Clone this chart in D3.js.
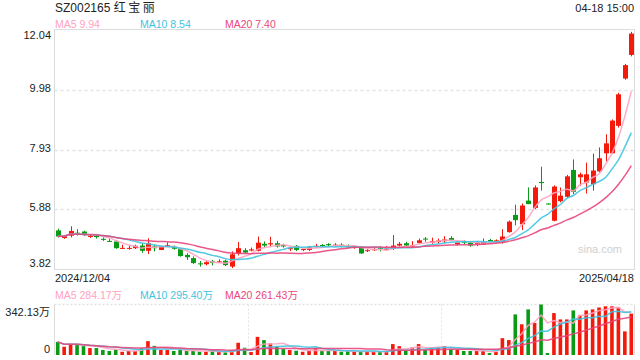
<!DOCTYPE html>
<html><head><meta charset="utf-8">
<script src="https://cdn.jsdelivr.net/npm/d3@7/dist/d3.min.js"></script>
<style>
body{margin:0;background:#fff}
svg{display:block}
text{font-family:"Liberation Sans",Arial,"Noto Sans CJK SC",sans-serif}
</style>
</head><body>
<svg id="c" width="640" height="360"></svg>
<script>
const titleCode = "SZ002165";
const titleName = "红宝丽";
const timeLabel = "04-18 15:00";
const dateLabels = ["2024/12/04", "2025/04/18"];
const opens  = [5.16,4.90,4.98,5.08,5.12,4.94,4.97,4.87,4.80,4.78,4.54,4.54,4.55,4.64,4.46,4.61,4.49,4.63,4.60,4.52,4.32,4.21,4.03,4.00,4.10,4.07,4.12,3.92,4.36,4.48,4.47,4.46,4.70,4.68,4.72,4.66,4.53,4.63,4.49,4.49,4.60,4.66,4.69,4.64,4.67,4.62,4.56,4.58,4.45,4.48,4.56,4.49,4.53,4.64,4.72,4.61,4.73,4.88,4.74,4.76,4.79,4.90,4.68,4.77,4.74,4.68,4.68,4.83,4.76,4.77,5.10,5.69,5.37,6.18,5.93,6.82,6.08,5.49,6.16,6.31,7.23,6.98,6.80,6.74,7.18,7.80,7.80,8.74,10.36,11.17];
const highs  = [5.22,5.00,5.30,5.20,5.15,5.02,5.00,4.92,4.88,4.82,4.67,4.64,4.67,4.72,4.89,4.67,4.62,4.75,4.64,4.55,4.38,4.27,4.11,4.12,4.15,4.17,4.16,4.44,4.76,4.55,4.57,4.95,4.78,4.94,4.80,4.70,4.59,4.66,4.53,4.63,4.70,4.69,4.72,4.72,4.72,4.68,4.64,4.62,4.52,4.57,4.62,4.62,5.00,4.76,4.77,4.79,4.88,4.93,4.91,4.88,4.96,4.96,4.74,4.82,4.80,4.80,4.88,4.87,4.85,5.20,5.50,6.04,6.08,6.63,6.70,7.34,6.09,6.70,6.63,7.06,7.59,7.14,7.48,7.79,8.00,8.45,8.96,9.87,10.86,11.96];
const lows   = [4.92,4.87,4.92,4.98,4.97,4.90,4.88,4.80,4.76,4.53,4.52,4.50,4.52,4.39,4.35,4.44,4.48,4.60,4.50,4.26,4.15,4.01,3.92,3.96,3.96,4.04,3.94,3.87,4.30,4.37,4.44,4.44,4.57,4.62,4.57,4.57,4.45,4.45,4.45,4.45,4.57,4.60,4.60,4.60,4.58,4.57,4.53,4.35,4.42,4.46,4.44,4.47,4.49,4.60,4.58,4.56,4.70,4.77,4.70,4.70,4.73,4.79,4.64,4.68,4.60,4.62,4.66,4.78,4.74,4.71,5.08,5.33,5.17,6.06,5.89,6.52,6.05,5.47,6.12,6.27,6.40,6.69,6.42,6.52,7.15,7.52,7.78,8.68,10.32,11.12];
const closes = [4.95,4.98,5.14,5.04,5.00,4.97,4.93,4.84,4.78,4.55,4.56,4.56,4.63,4.46,4.72,4.55,4.62,4.65,4.53,4.28,4.24,4.04,4.00,4.07,4.05,4.10,3.97,4.34,4.55,4.40,4.51,4.74,4.64,4.72,4.61,4.61,4.55,4.49,4.52,4.58,4.63,4.63,4.65,4.67,4.64,4.58,4.62,4.37,4.48,4.52,4.53,4.53,4.64,4.70,4.64,4.65,4.82,4.85,4.79,4.81,4.85,4.82,4.74,4.74,4.64,4.74,4.76,4.80,4.82,4.95,5.46,5.51,6.01,6.06,6.63,6.78,6.06,6.66,6.35,7.01,6.48,7.08,7.08,7.21,7.63,8.14,8.92,9.82,10.82,11.90];
const volumes = [89,56,76,67,60,47,47,34,27,36,22,27,27,45,94,62,34,34,27,34,27,27,22,22,27,22,18,25,83,49,20,123,101,78,56,40,34,29,22,29,45,29,29,29,22,27,22,22,22,22,22,22,74,60,29,51,74,38,51,51,60,38,34,27,27,27,27,13,22,114,101,275,208,309,217,342.13,13,284,241,241,302,268,302,309,322,330,330,322,160,280];
const priceTicks = [12.04, 9.98, 7.93, 5.88, 3.82];
const volTicks = [342.13, 0];
const volTickLabels = ["342.13万", "0"];
const maPeriods = [5, 10, 20];
const priceMaLabels = ["MA5 9.94", "MA10 8.54", "MA20 7.40"];
const volMaLabels = ["MA5 284.17万", "MA10 295.40万", "MA20 261.43万"];

const UP = "#f31a0b", DOWN = "#0a9a16";
const maColors = ["#ffa2c0", "#3fc4e0", "#e8467c"];
const grid = "#e2e2e2", border = "#dcdcdc";

const svg = d3.select("#c");
const L = 54.5, R = 634.5, PT = 29.5, PB = 269.5, VT = 304.5, VB = 355;
const idx = d3.range(closes.length);
const x = d3.scaleBand().domain(idx).range([L, R]).padding(0);
const xc = i => x(i) + x.bandwidth() / 2;
const y = d3.scaleLinear().domain([priceTicks[4], priceTicks[0]]).range([PB, PT]);
const yv = d3.scaleLinear().domain([0, volTicks[0]]).range([VB, VT]);

function ma(arr, n) {
  return arr.map((_, i) => d3.mean(arr.slice(Math.max(0, i - n + 1), i + 1)));
}

// header texts
const tt = svg.append("text").attr("x", 55).attr("y", 12).attr("font-size", 12).attr("fill", "#222");
tt.append("tspan").text(titleCode + " ");
tt.append("tspan").attr("letter-spacing", 2.5).text(titleName);
svg.append("text").attr("x", 634).attr("y", 12).attr("font-size", 11).attr("fill", "#222").attr("text-anchor", "end").text(timeLabel);
const maX = [55, 140, 225];
priceMaLabels.forEach((t, k) => svg.append("text").attr("x", maX[k]).attr("y", 28).attr("font-size", 10.5).attr("fill", maColors[k]).text(t));

// price panel grid & border
const gp = svg.append("g");
priceTicks.slice(1, 4).forEach(v => gp.append("line").attr("x1", L).attr("x2", R).attr("y1", Math.round(y(v)) + 0.5).attr("y2", Math.round(y(v)) + 0.5)
  .attr("stroke", grid).attr("stroke-width", 1.5).attr("stroke-dasharray", "3,3"));
gp.append("rect").attr("x", L).attr("y", PT).attr("width", R - L).attr("height", PB - PT).attr("fill", "none").attr("stroke", border);

// price tick labels
priceTicks.forEach((v, k) => {
  const t = svg.append("text").attr("x", 51).attr("font-size", 11).attr("fill", "#222").attr("text-anchor", "end").text(v.toFixed(2));
  if (k === 0) t.attr("y", y(v) + 9.5);
  else if (k === priceTicks.length - 1) t.attr("y", y(v) - 3);
  else t.attr("y", y(v) + 2);
});

// watermark
svg.append("text").attr("x", 622).attr("y", 253).attr("font-size", 11).attr("fill", "#cfcfcf").attr("text-anchor", "end").text("sina.com");

// candles
const cw = 5;
const gc = svg.append("g");
idx.forEach(i => {
  const up = closes[i] >= opens[i];
  const col = up ? UP : DOWN;
  const cx = Math.round(xc(i)) + 0.5;
  gc.append("line").attr("x1", cx).attr("x2", cx).attr("y1", y(highs[i])).attr("y2", y(lows[i])).attr("stroke", col).attr("stroke-width", 1);
  const top = y(Math.max(opens[i], closes[i])), bot = y(Math.min(opens[i], closes[i]));
  gc.append("rect").attr("x", cx - cw / 2).attr("y", top).attr("width", cw).attr("height", Math.max(1, bot - top)).attr("fill", col);
});

// price MAs
maPeriods.forEach((n, k) => {
  const m = ma(closes, n);
  svg.append("path").datum(m).attr("fill", "none").attr("stroke", maColors[k]).attr("stroke-width", 1.5).attr("stroke-opacity", 0.9)
    .attr("d", d3.line().x((d, i) => xc(i)).y(d => y(d)).curve(d3.curveMonotoneX));
});

// date labels
svg.append("text").attr("x", 55).attr("y", 282).attr("font-size", 11).attr("fill", "#222").text(dateLabels[0]);
svg.append("text").attr("x", 634).attr("y", 282).attr("font-size", 11).attr("fill", "#222").attr("text-anchor", "end").text(dateLabels[1]);
volMaLabels.forEach((t, k) => svg.append("text").attr("x", maX[k]).attr("y", 299).attr("font-size", 10.5).attr("fill", maColors[k]).text(t));

// volume panel
const gv = svg.append("g");
gv.append("line").attr("x1", L).attr("x2", R).attr("y1", VT).attr("y2", VT).attr("stroke", grid).attr("stroke-width", 1.5).attr("stroke-dasharray", "2,2");
[L, R].forEach(xx => gv.append("line").attr("x1", xx).attr("x2", xx).attr("y1", VT).attr("y2", VB).attr("stroke", border));
[1, 2].forEach(k => {
  const xx = Math.round(L + (R - L) * k / 3) + 0.5;
  gv.append("line").attr("x1", xx).attr("x2", xx).attr("y1", VT).attr("y2", VB).attr("stroke", grid).attr("stroke-dasharray", "2,2");
});
volTicks.forEach((v, k) => svg.append("text").attr("x", 50).attr("y", k === 0 ? yv(v) + 11 : yv(v) - 2.5).attr("font-size", 11).attr("fill", "#222").attr("text-anchor", "end").text(volTickLabels[k]));

const bw = 3.6;
idx.forEach(i => {
  const up = closes[i] >= opens[i];
  gv.append("rect").attr("x", xc(i) - bw / 2).attr("y", yv(volumes[i])).attr("width", bw).attr("height", VB - yv(volumes[i])).attr("fill", up ? UP : DOWN);
});
maPeriods.forEach((n, k) => {
  const m = ma(volumes, n);
  svg.append("path").datum(m).attr("fill", "none").attr("stroke", maColors[k]).attr("stroke-width", 1.5).attr("stroke-opacity", 0.9)
    .attr("d", d3.line().x((d, i) => xc(i)).y(d => yv(d)));
});
</script>
</body></html>
